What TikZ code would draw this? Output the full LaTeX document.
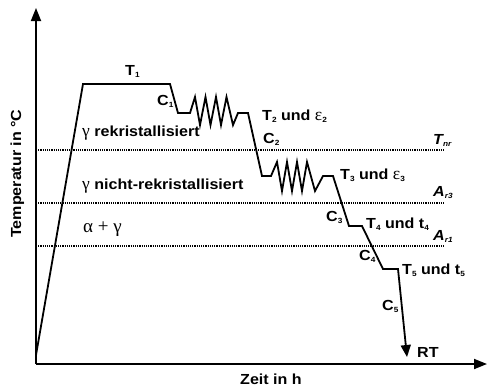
\documentclass[tikz,border=0pt]{standalone}
\usepackage{fontspec}
\setmainfont{Liberation Sans}[FakeStretch=1.1]
\newfontfamily\grk{Liberation Serif}
\usetikzlibrary{arrows.meta}
\newcommand{\mysub}[1]{\raisebox{-2.4pt}{\fontsize{7.5}{8}\selectfont #1}}
\newcommand{\gr}[1]{{\fontsize{17.5}{18}\selectfont\grk\mdseries #1}}
\begin{document}
\begin{tikzpicture}[x=1pt,y=-1pt,
  lbl/.style={anchor=base west,inner sep=0pt,font=\fontsize{14.6}{17}\selectfont\bfseries},
  ilbl/.style={anchor=base west,inner sep=0pt,font=\fontsize{14.6}{17}\selectfont\bfseries\itshape},
  curve/.style={line width=1.8pt,line join=miter},
  axis/.style={line width=1.8pt,-{Triangle[length=13pt,width=10pt]}},
  dotline/.style={line width=2pt,dash pattern=on 1.1pt off 1.1pt}]
\useasboundingbox (0,0) rectangle (487,386);
% axes
\coordinate (O) at (36,364);
\coordinate (ytip) at (36,8);
\coordinate (xtip) at (487,364);
\draw[axis] (O) -- (ytip);
\draw[axis] (O) -- (xtip);
% dotted lines
\coordinate (tnrL) at (36,150); \coordinate (tnrR) at (445,150);
\coordinate (ar3L) at (36,203); \coordinate (ar3R) at (445,203);
\coordinate (ar1L) at (36,246); \coordinate (ar1R) at (445,246);
\draw[dotline] (tnrL) -- (tnrR);
\draw[dotline] (ar3L) -- (ar3R);
\draw[dotline] (ar1L) -- (ar1R);
% process curve
\coordinate (start) at (36,355);
\coordinate (rt) at (407,357);
\draw[curve,-{Triangle[length=12pt,width=10pt]}] (start) -- (83,84) -- (170,84) -- (178,113) -- (190,113)
  -- (195,97) -- (200,125) -- (205.5,97) -- (210.5,125) -- (216,97) -- (221,125) -- (226.5,97) -- (233,125)
  -- (238,113) -- (248,113) -- (262,176) -- (271,176)
  -- (277,162) -- (282,191) -- (287,162) -- (292,191) -- (297,162) -- (302,191) -- (307,162) -- (315,191)
  -- (323,176) -- (333,176) -- (349,226) -- (362,226) -- (383,269) -- (398,269) -- (rt);
% labels
\node[lbl] (t1) at (125,75) {T\mysub{1}};
\node[lbl] (c1) at (157,105) {C\mysub{1}};
\node[lbl] (grek) at (82,136) {\gr{γ} rekristallisiert};
\node[lbl] (gnrek) at (82,189) {\gr{γ} nicht-rekristallisiert};
\node[anchor=base west,inner sep=0pt,font=\fontsize{19}{20}\selectfont\grk] (ag) at (83,232) {α + γ};
\node[lbl] (t2) at (262,120) {T\mysub{2} und \gr{ε}\mysub{2}};
\node[lbl] (c2) at (263,143) {C\mysub{2}};
\node[lbl] (t3) at (340,179) {T\mysub{3} und \gr{ε}\mysub{3}};
\node[lbl] (c3) at (326,221) {C\mysub{3}};
\node[lbl] (t4) at (366,228) {T\mysub{4} und t\mysub{4}};
\node[lbl] (c4) at (359,260) {C\mysub{4}};
\node[lbl] (t5) at (402,274) {T\mysub{5} und t\mysub{5}};
\node[lbl] (c5) at (382,310) {C\mysub{5}};
\node[lbl] (rtl) at (417,357) {RT};
\node[ilbl] (tnr) at (433,144) {T\mysub{nr}};
\node[ilbl] (ar3) at (433,196) {A\mysub{r3}};
\node[ilbl] (ar1) at (433,240) {A\mysub{r1}};
\node[lbl] (xl) at (240,384) {Zeit in h};
\node[lbl,rotate=90] (yl) at (21,238) {Temperatur in °C};
\end{tikzpicture}
\end{document}
